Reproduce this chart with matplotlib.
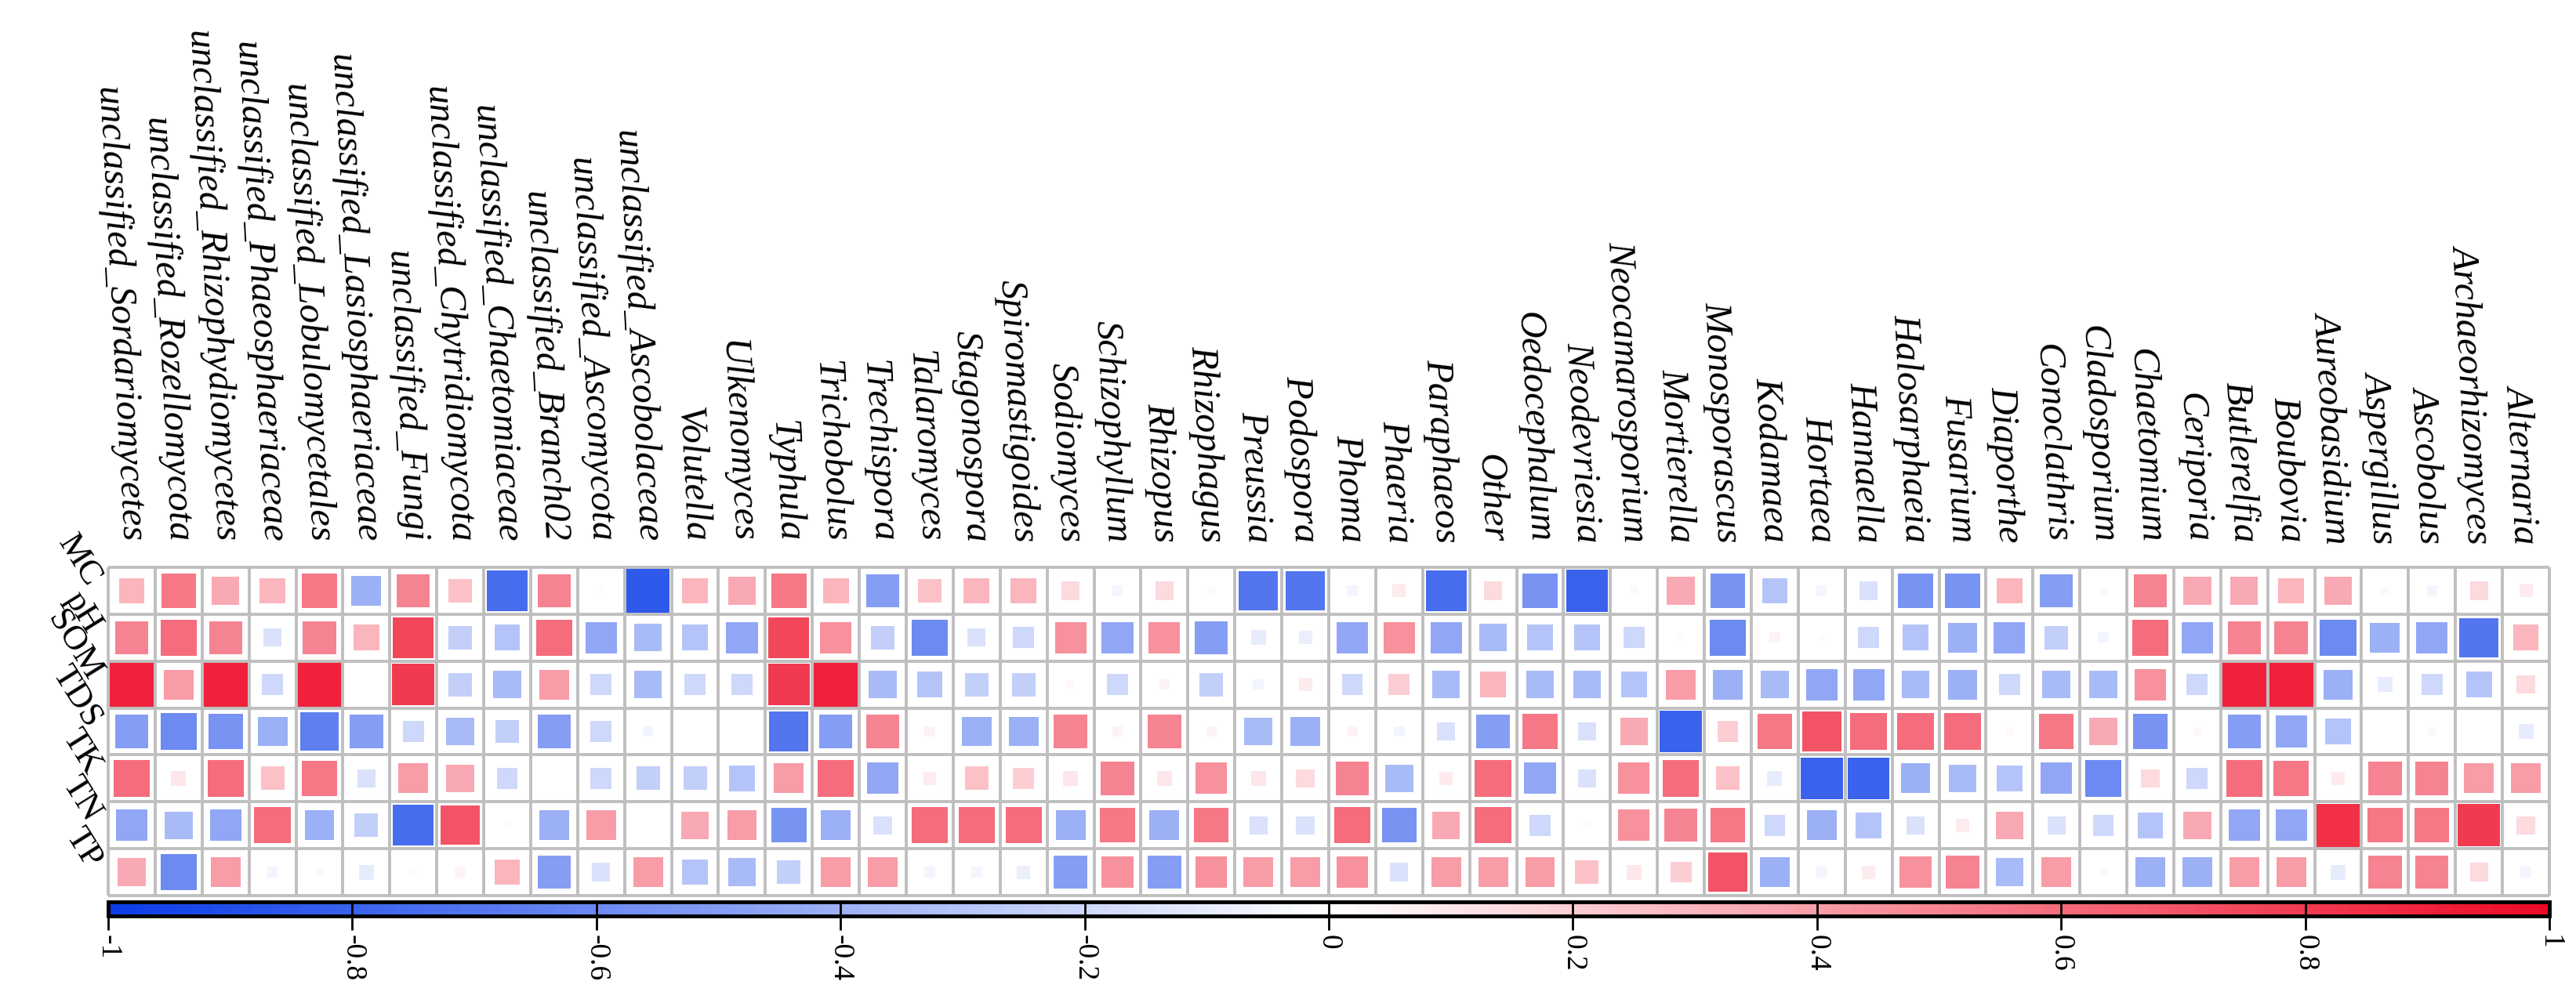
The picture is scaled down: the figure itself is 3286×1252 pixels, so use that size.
import numpy as np
import matplotlib
matplotlib.use("Agg")
import matplotlib.pyplot as plt
from matplotlib.colors import LinearSegmentedColormap, Normalize
from matplotlib.patches import Rectangle
from matplotlib.cm import ScalarMappable
import matplotlib.transforms as mtransforms

rows = ["MC", "pH", "SOM", "TDS", "TK", "TN", "TP"]

genera = [
    "unclassified_Sordariomycetes", "unclassified_Rozellomycota", "unclassified_Rhizophydiomycetes",
    "unclassified_Phaeosphaeriaceae", "unclassified_Lobulomycetales", "unclassified_Lasiosphaeriaceae",
    "unclassified_Fungi", "unclassified_Chytridiomycota", "unclassified_Chaetomiaceae",
    "unclassified_Branch02", "unclassified_Ascomycota", "unclassified_Ascobolaceae",
    "Volutella", "Ulkenomyces", "Typhula", "Trichobolus", "Trechispora", "Talaromyces",
    "Stagonospora", "Spiromastigoides", "Sodiomyces", "Schizophyllum", "Rhizopus", "Rhizophagus",
    "Preussia", "Podospora", "Phoma", "Phaeria", "Paraphaeos", "Other", "Oedocephalum",
    "Neodevriesia", "Neocamarosporium", "Mortierella", "Monosporascus", "Kodamaea", "Hortaea",
    "Hannaella", "Halosarphaeia", "Fusarium", "Diaporthe", "Conoclathris", "Cladosporium",
    "Chaetomium", "Ceriporia", "Butlerelfia", "Boubovia", "Aureobasidium", "Aspergillus",
    "Ascobolus", "Archaeorhizomyces", "Alternaria",
]

MC = [0.3, 0.55, 0.35, 0.3, 0.55, -0.4, 0.5, 0.25, -0.75, 0.5, 0.02, -0.85,
      0.3,
      0.35, 0.55, 0.3, -0.5, 0.25, 0.3, 0.3, 0.15, -0.05, 0.15, -0.03, -0.7, -0.7,
      -0.05, 0.08, -0.75, 0.15, -0.55, -0.8, 0.03, 0.35, -0.55, -0.3, -0.05, -0.15, -0.55,
      -0.55, 0.3, -0.5, 0.03, 0.5, 0.35, 0.35, 0.3, 0.35, 0.03, -0.05, 0.15, 0.08]
pH = [0.5, 0.6, 0.5, -0.15, 0.5, 0.3, 0.75, -0.25, -0.3, 0.6, -0.45, -0.35,
      -0.3,
      -0.45, 0.75, 0.45, -0.25, -0.6, -0.15, -0.2, 0.45, -0.45, 0.45, -0.5, -0.1, -0.08,
      -0.45, 0.45, -0.45, -0.35, -0.3, -0.3, -0.2, 0.02, -0.6, 0.05, 0.02, -0.2, -0.3,
      -0.4, -0.45, -0.25, -0.05, 0.6, -0.45, 0.5, 0.5, -0.6, -0.4, -0.45, -0.7, 0.3]
SOM = [0.9, 0.4, 0.9, -0.2, 0.9, 0.0, 0.8, -0.25, -0.35, 0.4, -0.2, -0.35,
       -0.2,
       -0.2, 0.8, 0.9, -0.35, -0.3, -0.25, -0.25, 0.03, -0.2, 0.05, -0.25, -0.05, 0.08,
       -0.2, 0.2, -0.35, 0.3, -0.35, -0.35, -0.3, 0.4, -0.4, -0.35, -0.45, -0.45, -0.35,
       -0.4, -0.2, -0.35, -0.35, 0.45, -0.2, 0.9, 0.9, -0.4, -0.1, -0.2, -0.3, 0.15]
TDS = [-0.5, -0.6, -0.55, -0.4, -0.65, -0.5, -0.2, -0.35, -0.25, -0.5, -0.2, -0.05,
       0.0,
       0.0, -0.7, -0.5, 0.5, 0.05, -0.4, -0.4, 0.5, 0.05, 0.5, 0.05, -0.35, -0.4,
       0.05, -0.05, -0.15, -0.5, 0.55, -0.15, 0.35, -0.8, 0.2, 0.55, 0.7, 0.6, 0.6,
       0.6, 0.03, 0.55, 0.35, -0.55, 0.03, -0.5, -0.45, -0.3, 0.0, 0.03, 0.0, -0.1]
TK = [0.6, 0.1, 0.6, 0.25, 0.55, -0.15, 0.4, 0.35, -0.2, 0.0, -0.2, -0.25,
      -0.25,
      -0.3, 0.4, 0.6, -0.45, 0.08, 0.25, 0.2, 0.1, 0.5, 0.1, 0.45, 0.1, 0.15,
      0.5, -0.35, 0.08, 0.6, -0.45, -0.15, 0.45, 0.6, 0.25, -0.1, -0.8, -0.8, -0.4,
      -0.35, -0.3, -0.45, -0.6, 0.15, -0.2, 0.6, 0.55, 0.08, 0.5, 0.5, 0.4, 0.4]
TN = [-0.45, -0.35, -0.45, 0.6, -0.4, -0.25, -0.75, 0.7, 0.02, -0.4, 0.4, 0.0,
      0.35,
      0.4, -0.55, -0.4, -0.15, 0.6, 0.6, 0.6, -0.4, 0.55, -0.4, 0.55, -0.15, -0.15,
      0.6, -0.55, 0.35, 0.6, -0.2, 0.02, 0.45, 0.5, 0.55, -0.2, -0.4, -0.3, -0.15,
      0.08, 0.35, -0.15, -0.2, -0.3, 0.35, -0.45, -0.45, 0.85, 0.55, 0.55, 0.8, 0.15]
TP = [0.35, -0.6, 0.4, -0.05, -0.03, -0.1, 0.02, 0.05, 0.3, -0.5, -0.15, 0.4,
      -0.3,
      -0.35, -0.25, 0.4, 0.4, -0.05, -0.05, -0.08, -0.5, 0.45, -0.5, 0.45, 0.4, 0.4,
      0.45, -0.15, 0.4, 0.4, 0.4, 0.25, 0.1, 0.2, 0.7, -0.4, -0.05, 0.08, 0.45,
      0.5, -0.35, 0.4, -0.03, -0.4, -0.4, 0.4, 0.4, -0.1, 0.5, 0.5, 0.15, -0.05]

cbar_ticks = [-1, -0.8, -0.6, -0.4, -0.2, 0, 0.2, 0.4, 0.6, 0.8, 1]
cbar_labels = ["-1", "-0.8", "-0.6", "-0.4", "-0.2", "0", "0.2", "0.4", "0.6", "0.8", "1"]

data = np.array([MC, pH, SOM, TDS, TK, TN, TP])
nrow, ncol = data.shape

W, H = 3287, 1252
fig = plt.figure(figsize=(W / 100, H / 100), dpi=100)
fig.patch.set_facecolor("white")

cmap = LinearSegmentedColormap.from_list("bwr_c", [(0.0, "#0A3CE8"), (0.5, "#FFFFFF"), (1.0, "#EE0A25")])
norm = Normalize(-1, 1)

gl, gr, gt, gb = 138, 3252, 724, 1143
ax = fig.add_axes([gl / W, 1 - gb / H, (gr - gl) / W, (gb - gt) / H])
ax.set_xlim(0, ncol)
ax.set_ylim(nrow, 0)
ax.axis("off")

for i in range(nrow):
    for j in range(ncol):
        v = data[i, j]
        s = min(0.95, np.sqrt(abs(v)))
        if s <= 0:
            continue
        ax.add_patch(Rectangle((j + 0.5 - s / 2, i + 0.5 - s / 2), s, s,
                               facecolor=cmap(norm(v)), edgecolor="none", zorder=2))

grid_c = "#bfbfbf"
ax.vlines(np.arange(ncol + 1), 0, nrow, colors=grid_c, linewidth=2.8, zorder=3, clip_on=False)
ax.hlines(np.arange(nrow + 1), 0, ncol, colors=grid_c, linewidth=2.8, zorder=3, clip_on=False)

trans = mtransforms.blended_transform_factory(ax.transData, ax.transAxes)
for j, name in enumerate(genera):
    ax.text(j + 0.5, 1.075, name, transform=trans, rotation=-87, rotation_mode="anchor",
            ha="right", va="center", fontsize=35, fontstyle="italic",
            family=["Liberation Serif", "DejaVu Serif"])

for i, name in enumerate(rows):
    ax.text(-0.3, i + 0.35, name, rotation=-58, rotation_mode="anchor",
            ha="right", va="center", fontsize=32, family=["Liberation Serif", "DejaVu Serif"])

ct, cbt = 1151, 1169
cax = fig.add_axes([gl / W, 1 - cbt / H, (gr - gl) / W, (cbt - ct) / H])
cb = fig.colorbar(ScalarMappable(norm=norm, cmap=cmap), cax=cax, orientation="horizontal",
                  ticks=cbar_ticks)
cb.outline.set_linewidth(3.5)
cb.outline.set_edgecolor("black")
cax.tick_params(direction="inout", length=26, width=2, color="black", pad=4)
cax.set_xticklabels(cbar_labels, rotation=-90, fontsize=27,
                    family=["Liberation Serif", "DejaVu Serif"])

fig.savefig("out.png", dpi=100, facecolor="white")
